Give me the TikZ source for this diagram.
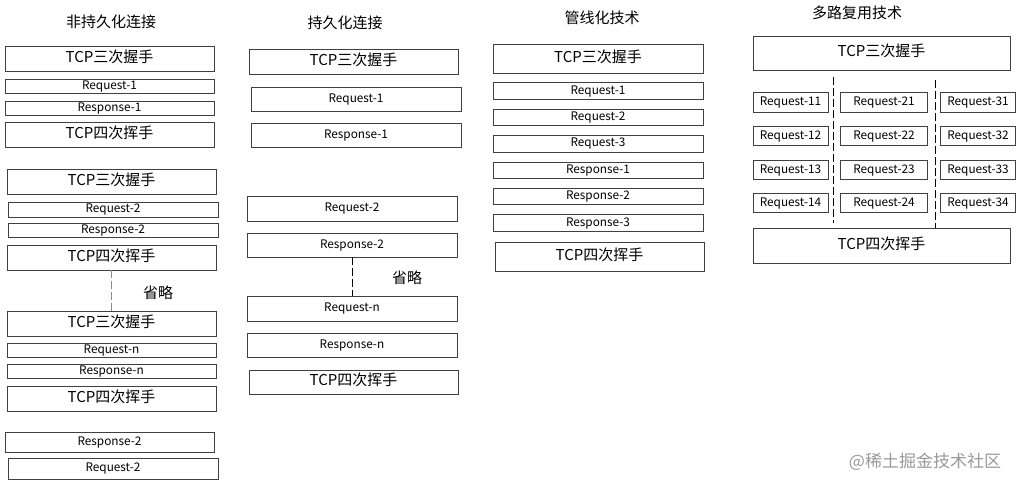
\documentclass[tikz,border=0pt]{standalone}
\usepackage{fontspec}
\setmainfont{Noto Sans CJK SC}
\usetikzlibrary{calc}
\definecolor{boxgray}{rgb}{0.25,0.25,0.25}
\definecolor{dashblue}{rgb}{0.35,0.6,0.82}

\begin{document}
\begin{tikzpicture}[x=1pt,y=-1pt,
		box/.style={draw=boxgray,line width=0.9pt,inner sep=0pt,text height=0.72em,text depth=0.12em,font=\fontsize{11.8}{12}\selectfont},
		bigbox/.style={box,text height=0.86em,text depth=0.1em,font=\fontsize{15}{15}\selectfont},
		heading/.style={font=\fontsize{15}{15}\selectfont},
		gap/.style={line width=1pt,dash pattern=on 8pt off 3pt}]
	\useasboundingbox (0,0) rectangle (1022,487);
	% non persistent
	\node[heading] (t1) at (111,22) {非持久化连接};
	\node[bigbox,minimum width=209pt,minimum height=25pt] (hs11) at (109.5,58.5) {TCP三次握手};
	\node[box,minimum width=209pt,minimum height=14pt] (rq11) at (109.5,86) {Request-1};
	\node[box,minimum width=209pt,minimum height=14pt] (rs11) at (109.5,108) {Response-1};
	\node[bigbox,minimum width=209pt,minimum height=25pt] (fn11) at (109.5,134.5) {TCP四次挥手};
	\node[bigbox,minimum width=209pt,minimum height=25pt] (hs12) at (111.5,181.5) {TCP三次握手};
	\node[box,minimum width=210pt,minimum height=15pt] (rq12) at (113,209.5) {Request-2};
	\node[box,minimum width=210pt,minimum height=14pt] (rs12) at (113,230) {Response-2};
	\node[bigbox,minimum width=209pt,minimum height=25pt] (fn12) at (111.5,257.5) {TCP四次挥手};
	\node[bigbox,minimum width=209pt,minimum height=25pt] (hs13) at (111.5,323.5) {TCP三次握手};
	\node[box,minimum width=209pt,minimum height=14pt] (rq13) at (111.5,350) {Request-n};
	\node[box,minimum width=209pt,minimum height=14pt] (rs13) at (111.5,371) {Response-n};
	\node[bigbox,minimum width=209pt,minimum height=25pt] (fn13) at (111.5,398.5) {TCP四次挥手};
	\node[box,minimum width=209pt,minimum height=20pt] (rs14) at (109.5,442) {Response-2};
	\node[box,minimum width=210pt,minimum height=21pt] (rq14) at (113,468.5) {Request-2};
	\draw[gap,dashblue] (fn12) -- (hs13);
	\node[heading] (skip1) at (158,293) {省略};
	% persistent
	\node[heading] (t2) at (345,23) {持久化连接};
	\node[bigbox,minimum width=209pt,minimum height=25pt] (hs2) at (353.5,61.5) {TCP三次握手};
	\node[box,minimum width=210pt,minimum height=24pt] (rq21) at (356,99) {Request-1};
	\node[box,minimum width=210pt,minimum height=24pt] (rs21) at (356,135) {Response-1};
	\node[box,minimum width=210pt,minimum height=25pt] (rq22) at (352,208.5) {Request-2};
	\node[box,minimum width=210pt,minimum height=24pt] (rs22) at (352,245) {Response-2};
	\node[box,minimum width=210pt,minimum height=25pt] (rq2n) at (352,308.5) {Request-n};
	\node[box,minimum width=210pt,minimum height=24pt] (rs2n) at (352,345) {Response-n};
	\node[bigbox,minimum width=209pt,minimum height=24pt] (fn2) at (353.5,382) {TCP四次挥手};
	\draw[gap] (rs22) -- (rq2n);
	\node[heading] (skip2) at (407,278) {省略};
	% pipelining
	\node[heading] (t3) at (602,18) {管线化技术};
	\node[bigbox,minimum width=210pt,minimum height=29pt] (hs3) at (598,58.5) {TCP三次握手};
	\foreach \txt [count=\i] in {Request-1,Request-2,Request-3,Response-1,Response-2,Response-3}
	{
		\node[box,minimum width=210pt,minimum height=16.5pt] (m3\i) at (598,{91+(\i-1)*26.4}) {\txt};
	}
	\node[bigbox,minimum width=209pt,minimum height=29pt] (fn3) at (599.5,256.5) {TCP四次挥手};
	% multiplexing
	\node[heading] (t4) at (857,13) {多路复用技术};
	\node[bigbox,minimum width=257pt,minimum height=34pt] (hs4) at (881.5,53) {TCP三次握手};
	\foreach \r/\y in {1/102.5,2/136,3/170,4/203}
	{
		\node[box,minimum width=75pt,minimum height=19.5pt] (q1\r) at (790.5,\y) {Request-1\r};
		\node[box,minimum width=87pt,minimum height=19.5pt] (q2\r) at (884,\y) {Request-2\r};
		\node[box,minimum width=75pt,minimum height=19.5pt] (q3\r) at (978,\y) {Request-3\r};
	}
	\node[bigbox,minimum width=257pt,minimum height=35pt] (fn4) at (881.5,245.5) {TCP四次挥手};
	\coordinate (s1a) at (833,77);
	\coordinate (s1b) at (833,223);
	\coordinate (s2a) at (935,80);
	\draw[gap] (s1a) -- (s1b);
	\draw[gap] (s2a) -- (s2a |- fn4.north);
	% watermark
	\node[font=\fontsize{17}{17}\selectfont,text=black!40] (mark) at (925,462) {@稀土掘金技术社区};
\end{tikzpicture}
\end{document}
